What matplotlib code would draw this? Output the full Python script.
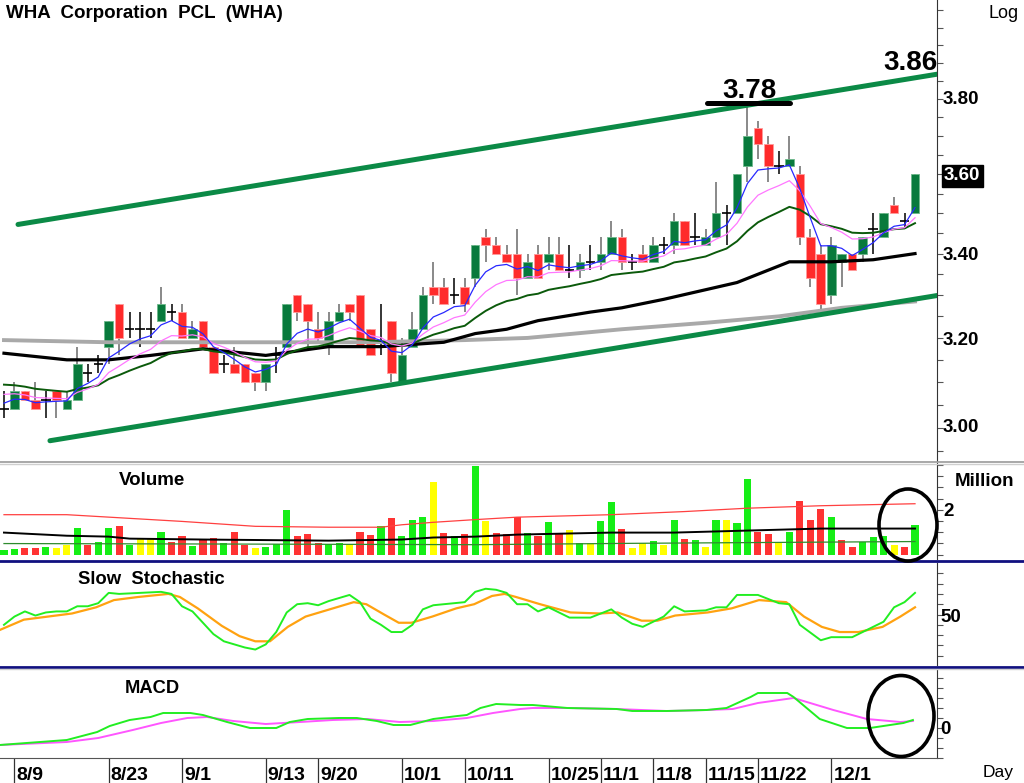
import numpy as np
import pandas as pd
import matplotlib
matplotlib.use('Agg')
import matplotlib.pyplot as plt
from matplotlib.patches import Ellipse
from matplotlib.lines import Line2D
from matplotlib.ticker import NullFormatter, FixedLocator

plt.rcParams['font.family'] = ['Liberation Sans', 'DejaVu Sans']

# daily candles (THB), 8/8 .. 12/7
opens = [3.04, 3.04, 3.08, 3.06, 3.06, 3.08, 3.04, 3.06, 3.12, 3.14,
         3.18, 3.28, 3.22, 3.22, 3.22, 3.24, 3.26, 3.26, 3.20, 3.24,
         3.18, 3.14, 3.14, 3.14, 3.12, 3.10, 3.16, 3.18, 3.30, 3.28,
         3.22, 3.18, 3.24, 3.28, 3.30, 3.22, 3.18, 3.24, 3.10, 3.18,
         3.22, 3.32, 3.32, 3.30, 3.32, 3.34, 3.44, 3.42, 3.40, 3.40,
         3.34, 3.40, 3.38, 3.40, 3.36, 3.36, 3.38, 3.38, 3.40, 3.44,
         3.38, 3.40, 3.38, 3.42, 3.42, 3.48, 3.44, 3.42, 3.44, 3.50,
         3.50, 3.62, 3.72, 3.68, 3.62, 3.62, 3.60, 3.44, 3.40, 3.30,
         3.38, 3.40, 3.40, 3.46, 3.44, 3.52, 3.48, 3.50]
highs = [3.08, 3.10, 3.08, 3.10, 3.08, 3.08, 3.08, 3.18, 3.14, 3.16,
         3.24, 3.28, 3.26, 3.26, 3.26, 3.32, 3.28, 3.28, 3.24, 3.24,
         3.18, 3.16, 3.18, 3.14, 3.12, 3.14, 3.18, 3.28, 3.30, 3.28,
         3.26, 3.26, 3.28, 3.28, 3.30, 3.22, 3.28, 3.24, 3.20, 3.26,
         3.32, 3.38, 3.34, 3.34, 3.34, 3.42, 3.46, 3.44, 3.42, 3.46,
         3.40, 3.42, 3.44, 3.44, 3.42, 3.40, 3.42, 3.44, 3.48, 3.46,
         3.40, 3.42, 3.44, 3.44, 3.50, 3.48, 3.50, 3.46, 3.58, 3.52,
         3.60, 3.78, 3.74, 3.70, 3.66, 3.70, 3.62, 3.46, 3.42, 3.44,
         3.40, 3.40, 3.44, 3.50, 3.50, 3.54, 3.50, 3.60]
lows = [3.02, 3.04, 3.06, 3.04, 3.02, 3.02, 3.04, 3.06, 3.10, 3.12,
        3.14, 3.16, 3.20, 3.18, 3.20, 3.24, 3.24, 3.20, 3.20, 3.18,
        3.12, 3.12, 3.12, 3.10, 3.08, 3.08, 3.12, 3.18, 3.24, 3.18,
        3.19, 3.16, 3.24, 3.24, 3.18, 3.16, 3.16, 3.10, 3.10, 3.18,
        3.22, 3.28, 3.28, 3.28, 3.26, 3.32, 3.38, 3.40, 3.38, 3.30,
        3.34, 3.34, 3.36, 3.36, 3.34, 3.34, 3.36, 3.36, 3.40, 3.36,
        3.36, 3.38, 3.38, 3.40, 3.40, 3.42, 3.42, 3.42, 3.44, 3.42,
        3.50, 3.58, 3.64, 3.58, 3.60, 3.62, 3.42, 3.32, 3.26, 3.28,
        3.32, 3.36, 3.38, 3.40, 3.44, 3.50, 3.46, 3.50]
closes = [3.04, 3.08, 3.06, 3.04, 3.06, 3.06, 3.06, 3.14, 3.12, 3.14,
          3.24, 3.20, 3.22, 3.22, 3.22, 3.28, 3.26, 3.20, 3.22, 3.18,
          3.12, 3.14, 3.12, 3.10, 3.10, 3.14, 3.16, 3.28, 3.26, 3.24,
          3.20, 3.24, 3.26, 3.26, 3.18, 3.16, 3.18, 3.12, 3.16, 3.22,
          3.30, 3.30, 3.28, 3.30, 3.28, 3.42, 3.42, 3.40, 3.38, 3.34,
          3.38, 3.34, 3.40, 3.36, 3.36, 3.38, 3.38, 3.40, 3.44, 3.38,
          3.38, 3.38, 3.42, 3.42, 3.48, 3.42, 3.44, 3.44, 3.50, 3.50,
          3.60, 3.70, 3.68, 3.62, 3.62, 3.64, 3.44, 3.34, 3.28, 3.42,
          3.40, 3.36, 3.44, 3.46, 3.50, 3.50, 3.48, 3.60]

# volume, million shares
volume = [0.18, 0.24, 0.31, 0.31, 0.34, 0.27, 0.43, 1.17, 0.41, 0.55,
          1.17, 1.29, 0.43, 0.70, 0.70, 0.99, 0.55, 0.84, 0.37, 0.70,
          0.73, 0.53, 0.99, 0.41, 0.30, 0.33, 0.46, 2.00, 0.83, 0.92,
          0.53, 0.46, 0.50, 0.46, 1.01, 0.87, 1.26, 1.64, 0.83, 1.54,
          1.69, 3.24, 0.96, 0.83, 0.92, 3.94, 1.50, 0.96, 0.92, 1.69,
          0.96, 0.84, 1.44, 0.96, 1.08, 0.53, 0.53, 1.50, 2.36, 1.13,
          0.27, 0.53, 0.61, 0.41, 1.54, 0.68, 0.64, 0.34, 1.54, 1.54,
          1.39, 3.39, 1.02, 0.92, 0.50, 1.02, 2.40, 1.54, 2.03, 1.66,
          0.65, 0.34, 0.56, 0.79, 0.84, 0.41, 0.34, 1.32]

# long moving averages
ma_black_idx = [0, 6, 10, 14, 19, 23, 25, 31, 36, 42, 45, 48, 51, 56, 59, 63, 70, 75, 79, 83, 87]
ma_black = [3.165, 3.15, 3.15, 3.16, 3.175, 3.165, 3.16, 3.18, 3.18, 3.19, 3.21,
            3.22, 3.24, 3.26, 3.27, 3.29, 3.33, 3.38, 3.38, 3.385, 3.40]
ma_gray_idx = [0, 10, 23, 35, 44, 50, 59, 67, 74, 80, 87]
ma_gray = [3.195, 3.19, 3.19, 3.19, 3.195, 3.20, 3.22, 3.235, 3.25, 3.27, 3.285]
ema_start = {'blue': 3.06, 'pink': 3.08, 'green': 3.10}

# volume averages
vred_idx = [0, 6, 17, 24, 31, 36, 38, 41, 45, 49, 58, 65, 71, 78, 87]
vred = [1.78, 1.78, 1.48, 1.26, 1.22, 1.22, 1.33, 1.44, 1.56, 1.67, 1.78, 1.92, 2.07, 2.18, 2.27]
vblk_idx = [0, 6, 10, 12, 19, 31, 38, 41, 45, 49, 58, 64, 71, 78, 87]
vblk = [0.98, 0.84, 0.80, 0.71, 0.67, 0.62, 0.67, 0.76, 0.80, 0.89, 0.98, 0.98, 1.07, 1.16, 1.16]
vgrn_idx = [0, 20, 45, 60, 87]
vgrn = [0.49, 0.47, 0.44, 0.50, 0.58]

# slow stochastic
k_idx = [0, 1, 2, 3, 4, 5, 6, 7, 8, 9, 10, 11, 13, 15, 16, 17, 18, 20, 21, 23,
         24, 25, 26, 27, 28, 29, 30, 31, 33, 34, 35, 36, 37, 38, 39, 40, 41, 43, 44, 45,
         46, 47, 48, 49, 50, 51, 52, 54, 56, 58, 59, 60, 61, 62, 63, 64, 65, 67, 68, 69,
         70, 72, 73, 74, 75, 76, 78, 79, 81, 82, 84, 85, 86, 87]
k_val = [40, 48, 53, 49, 52, 53, 53, 58, 58, 61, 71, 70, 71, 72, 70, 58, 53, 31, 24, 18,
         16, 21, 33, 52, 60, 61, 59, 63, 69, 62, 46, 40, 33, 33, 40, 55, 59, 61, 62, 72,
         75, 74, 71, 60, 60, 53, 57, 47, 47, 55, 47, 41, 38, 43, 48, 58, 53, 54, 57, 57,
         69, 69, 65, 61, 60, 40, 25, 28, 28, 33, 43, 57, 62, 71]
d_idx = [-0.4, 1.9, 4.2, 6.5, 8.8, 10.5, 12.8, 15.7, 16.8, 18.5, 20.8, 22.5, 24.0, 25.4,
         27.1, 28.8, 31.1, 33.4, 34.6, 36.3, 37.7, 38.9, 40.9, 43.2, 44.9, 46.6, 47.8,
         48.9, 51.2, 54.1, 56.9, 58.6, 60.9, 62.4, 64.1, 67.2, 69.5, 72.1, 74.7, 76.4,
         78.1, 79.8, 81.6, 83.9, 85.6, 87.0]
d_val = [35, 45, 48, 51, 57, 64, 67, 70, 67, 56, 39, 29, 24, 24, 38, 48, 55, 62, 60, 50,
         42, 42, 48, 56, 60, 68, 70, 67, 60, 52, 51, 52, 44, 44, 49, 52, 56, 64, 62, 48,
         38, 33, 33, 38, 48, 57]

# MACD and signal
macd_idx = [-0.4, 6, 8.9, 10.1, 12, 14, 15.2, 17.8, 19, 21.3, 23.5, 26, 27.3, 29, 32,
            33.7, 35.6, 37.2, 38.8, 41, 43.3, 44.2, 45.5, 47, 49.3, 50.5, 53.8, 58.5, 60,
            63.3, 67.1, 69, 71.3, 72, 74.8, 75.4, 77.9, 80.5, 82.7, 85.9, 86.8]
macd_val = [-0.034, -0.024, -0.008, 0.004, 0.016, 0.022, 0.030, 0.030, 0.026, 0.012,
            0.0, 0.0, 0.012, 0.018, 0.020, 0.020, 0.014, 0.006, 0.006, 0.018,
            0.024, 0.026, 0.040, 0.048, 0.046, 0.046, 0.040, 0.038, 0.034, 0.034,
            0.036, 0.040, 0.062, 0.070, 0.070, 0.062, 0.018, 0.0, 0.0, 0.010, 0.016]
sig_idx = [-0.4, 6, 9, 12.3, 15, 17.5, 19.4, 21.9, 25, 28.3, 31.4, 34.7, 37.8, 41, 44.2,
           46.7, 49.3, 50.5, 53.8, 58.5, 63.3, 67.1, 69.6, 72, 75.4, 79.2, 82.4, 85.6, 86.8]
sig_val = [-0.034, -0.028, -0.020, -0.004, 0.010, 0.020, 0.022, 0.014, 0.008, 0.012,
           0.016, 0.018, 0.012, 0.014, 0.020, 0.030, 0.038, 0.040, 0.040, 0.038,
           0.034, 0.036, 0.038, 0.050, 0.060, 0.036, 0.018, 0.012, 0.014]

date_idx = [1, 10, 17, 25, 30, 38, 44, 52, 57, 62, 67, 72, 79]
date_lab = ['8/9', '8/23', '9/1', '9/13', '9/20', '10/1', '10/11', '10/25',
            '11/1', '11/8', '11/15', '11/22', '12/1']

# trend channel (start/end index, price)
upper_tl = ([1.34, 89.1], [3.472, 3.868])
lower_tl = ([4.39, 89.1], [2.972, 3.299])

O = np.array(opens); Hh = np.array(highs); L = np.array(lows); C = np.array(closes)
idx = np.arange(len(C))


def ema(vals, span, start):
    s = pd.Series([start] + list(vals))
    return s.ewm(span=span, adjust=False).mean().values[1:]


W, H = 1024, 783
fig = plt.figure(figsize=(W / 100, H / 100), dpi=100)


def box(top, bottom, left=0, right=937):
    return [left / W, 1 - bottom / H, (right - left) / W, (bottom - top) / H]


def ftext(px, py, s, **kw):
    fig.text(px / W, 1 - py / H, s, **kw)


ax_p = fig.add_axes(box(0, 461))
ax_v = fig.add_axes(box(463, 559))
ax_s = fig.add_axes(box(563, 665))
ax_m = fig.add_axes(box(669, 758))

for ax in (ax_p, ax_v, ax_s, ax_m):
    ax.set_xlim(-0.38, 89.1)
    for sp in ('left', 'top', 'bottom'):
        ax.spines[sp].set_visible(False)
    ax.spines['right'].set_color('#333333')
    ax.yaxis.tick_right()
    ax.tick_params(axis='y', which='both', direction='out', length=4, width=0.8,
                   colors='#555555', labelright=False)
    ax.set_xticks([])

# ---- price panel
ax_p.set_yscale('log')
ax_p.set_ylim(2.929, 4.08)
ax_p.yaxis.set_major_locator(FixedLocator([3.0, 3.2, 3.4, 3.6, 3.8, 4.0]))
ax_p.yaxis.set_minor_locator(FixedLocator(np.arange(2.95, 4.06, 0.05)))
ax_p.yaxis.set_major_formatter(NullFormatter())
ax_p.yaxis.set_minor_formatter(NullFormatter())

up = C > O
dn = C < O
eq = C == O
wick_col = np.where(eq, 'black', '#6a6a6a')
ax_p.vlines(idx, L, Hh, colors=wick_col, lw=1.1, zorder=2)
ax_p.bar(idx[up], (C - O)[up], bottom=O[up], width=0.82, color='#087a3c',
         edgecolor='#6db88a', lw=0.6, zorder=2)
ax_p.bar(idx[dn], (O - C)[dn], bottom=C[dn], width=0.82, color='#ff2b2b',
         edgecolor='#ff9a9a', lw=0.6, zorder=2)
ax_p.hlines(C[eq], idx[eq] - 0.45, idx[eq] + 0.45, colors='black', lw=1.2, zorder=2)

ax_p.plot(ma_gray_idx, ma_gray, color='#a9a9a9', lw=2.8, zorder=3)
ax_p.plot(ma_black_idx, ma_black, color='black', lw=2.3, zorder=3)
ax_p.plot(idx, ema(C, 20, ema_start['green']), color='#0b5a0b', lw=1.4, zorder=3)
ax_p.plot(idx, ema(C, 10, ema_start['pink']), color='#ff77ff', lw=0.9, zorder=3)
ax_p.plot(idx, ema(C, 5, ema_start['blue']), color='#2828ff', lw=0.9, zorder=3)

ax_p.plot(*upper_tl, color='#0b8a46', lw=3.6, solid_capstyle='round', zorder=4)
ax_p.plot(*lower_tl, color='#0b8a46', lw=3.6, solid_capstyle='round', zorder=4)
ax_p.plot([67.1, 75.1], [3.79, 3.79], color='black', lw=3.6, solid_capstyle='round', zorder=4)
ax_p.text(71.2, 3.822, '3.78', ha='center', va='center', fontsize=20, fontweight='bold')
ax_p.text(86.6, 3.898, '3.86', ha='center', va='center', fontsize=20, fontweight='bold',
          clip_on=False)

# ---- volume panel
chg = np.diff(C, prepend=C[0] - 0.02)
vcol = np.where(chg > 0, '#16ee16', np.where(chg < 0, '#ff3333', '#ffff00'))
ax_v.bar(idx, volume, width=0.68, color=vcol, zorder=2)
ax_v.plot(vred_idx, vred, color='#ff4040', lw=0.9, zorder=3)
ax_v.plot(vblk_idx, vblk, color='black', lw=1.4, zorder=3)
ax_v.plot(vgrn_idx, vgrn, color='#2e8b2e', lw=0.9, zorder=3)
ax_v.set_ylim(-0.2, 4.09)
ax_v.yaxis.set_major_locator(FixedLocator([2]))
ax_v.yaxis.set_minor_locator(FixedLocator(np.arange(0, 4.1, 0.5)))
ax_v.text(0.127, 0.82, 'Volume', transform=ax_v.transAxes, fontsize=13.5, fontweight='bold',
          va='center')

# ---- stochastic panel
ax_s.plot(d_idx, d_val, color='#ffa210', lw=1.6, zorder=3)
ax_s.plot(k_idx, k_val, color='#22ee22', lw=1.4, zorder=3)
ax_s.set_ylim(1, 100)
ax_s.yaxis.set_major_locator(FixedLocator([50]))
ax_s.yaxis.set_minor_locator(FixedLocator(np.arange(10, 100, 10)))
ax_s.text(0.083, 0.84, 'Slow  Stochastic', transform=ax_s.transAxes, fontsize=13.3,
          fontweight='bold', va='center')

# ---- MACD panel
ax_m.plot(sig_idx, sig_val, color='#ff55ff', lw=1.4, zorder=3)
ax_m.plot(macd_idx, macd_val, color='#22ee22', lw=1.4, zorder=3)
ax_m.set_ylim(-0.06, 0.118)
ax_m.yaxis.set_major_locator(FixedLocator([0]))
ax_m.yaxis.set_minor_locator(FixedLocator(np.arange(-0.06, 0.12, 0.02)))
ax_m.text(0.133, 0.78, 'MACD', transform=ax_m.transAxes, fontsize=13.2,
          fontweight='bold', va='center')
ax_m.spines['bottom'].set_visible(True)
ax_m.spines['bottom'].set_color('#555555')
ax_m.set_xticks(date_idx)
ax_m.tick_params(axis='x', direction='out', length=19, width=0.9, colors='#333333',
                 labelbottom=False)
for i, lab in zip(date_idx, date_lab):
    ax_m.text(i + 0.2, -0.2, lab, transform=ax_m.get_xaxis_transform(), ha='left',
              va='center', fontsize=14, fontweight='bold', clip_on=False)

# ---- panel separators
for y, col, lw in [(461.5, '#9a9a9a', 1.2), (463.5, '#cfcfcf', 1.0), (561, '#101080', 2.0),
                   (666.5, '#101080', 2.0), (669, '#cfcfcf', 1.0)]:
    fig.add_artist(Line2D([0, 1], [1 - y / H, 1 - y / H], transform=fig.transFigure,
                          color=col, lw=lw))

# ---- right side labels
bold = dict(fontsize=13.5, fontweight='bold', va='center', ha='left')
ftext(6, 14, 'WHA  Corporation  PCL  (WHA)', **bold)
ftext(989, 14, 'Log', fontsize=13, va='center', ha='left')
for lab, py in [('3.80', 100), ('3.40', 255), ('3.20', 340), ('3.00', 428)]:
    ftext(943, py, lab, **bold)
ftext(944, 176, '3.60', color='white',
      bbox=dict(boxstyle='square,pad=0.12', fc='black', ec='black'), **bold)
ftext(955, 481, 'Million', **bold)
ftext(943, 511, '2', **bold)
ftext(940, 617, '50', **bold)
ftext(940, 729, '0', **bold)
ftext(983, 772, 'Day', fontsize=12.5, va='center', ha='left')

# ---- highlight circles
for cx, cy, w, h in [(908, 525, 58, 72), (901, 716, 66, 81)]:
    fig.add_artist(Ellipse((cx / W, 1 - cy / H), w / W, h / H, transform=fig.transFigure,
                           fill=False, ec='black', lw=2.6, zorder=10))

fig.savefig('out.png', dpi=100)
